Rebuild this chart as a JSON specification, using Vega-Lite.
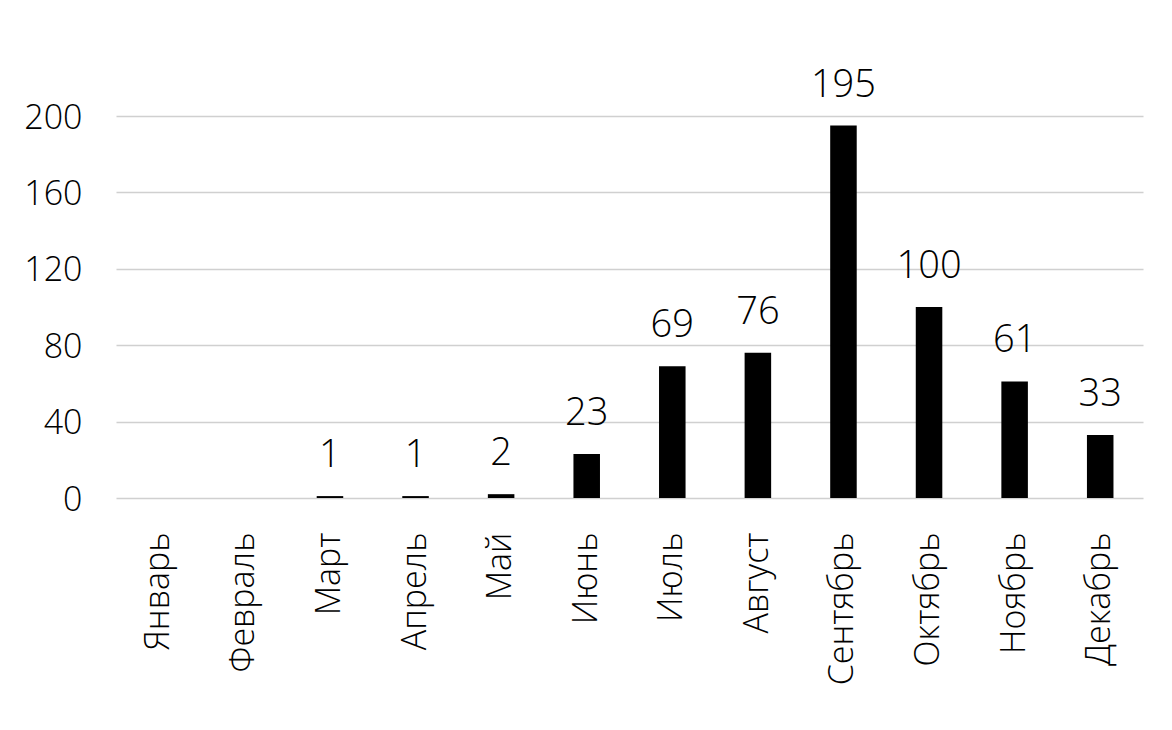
{
  "$schema": "https://vega.github.io/schema/vega-lite/v6.json",
  "autosize": {"type": "none"},
  "padding": {"left": 116, "top": 116, "right": 29, "bottom": 232},
  "width": 1027,
  "height": 382,
  "background": "#ffffff",
  "config": {
    "view": {"stroke": null},
    "font": "Open Sans"
  },
  "data": {
    "values": [
      {"month": "Январь", "count": null},
      {"month": "Февраль", "count": null},
      {"month": "Март", "count": 1},
      {"month": "Апрель", "count": 1},
      {"month": "Май", "count": 2},
      {"month": "Июнь", "count": 23},
      {"month": "Июль", "count": 69},
      {"month": "Август", "count": 76},
      {"month": "Сентябрь", "count": 195},
      {"month": "Октябрь", "count": 100},
      {"month": "Ноябрь", "count": 61},
      {"month": "Декабрь", "count": 33}
    ]
  },
  "encoding": {
    "x": {
      "field": "month",
      "type": "nominal",
      "sort": null,
      "scale": {
        "domain": ["Январь", "Февраль", "Март", "Апрель", "Май", "Июнь", "Июль", "Август", "Сентябрь", "Октябрь", "Ноябрь", "Декабрь"],
        "paddingInner": 0.69,
        "paddingOuter": 0.345
      },
      "axis": {
        "title": null,
        "labelAngle": -90,
        "labelAlign": "right",
        "labelBaseline": "middle",
        "labelFontSize": 34,
        "labelFontWeight": 300,
        "labelColor": "#000000",
        "labelFont": "Open Sans",
        "labelPadding": 34,
        "ticks": false,
        "tickSize": 0,
        "domain": false,
        "labelOverlap": false
      }
    },
    "y": {
      "field": "count",
      "type": "quantitative",
      "scale": {"domain": [0, 200], "nice": false},
      "axis": {
        "title": null,
        "values": [0, 40, 80, 120, 160, 200],
        "labelFontSize": 34,
        "labelFontWeight": 300,
        "labelColor": "#000000",
        "labelFont": "Open Sans",
        "labelPadding": 34,
        "labelBaseline": "middle",
        "labelOffset": 2,
        "ticks": false,
        "tickSize": 0,
        "domain": false,
        "grid": true,
        "gridColor": "#d0d0d0",
        "gridWidth": 1.5
      }
    }
  },
  "layer": [
    {
      "mark": {"type": "bar", "color": "#000000"}
    },
    {
      "transform": [{"filter": "datum.count != null"}],
      "mark": {
        "type": "text",
        "baseline": "alphabetic",
        "align": "center",
        "dy": -29,
        "fontSize": 38,
        "fontWeight": 300,
        "color": "#000000",
        "font": "Open Sans"
      },
      "encoding": {
        "text": {"field": "count", "type": "quantitative"}
      }
    }
  ]
}
